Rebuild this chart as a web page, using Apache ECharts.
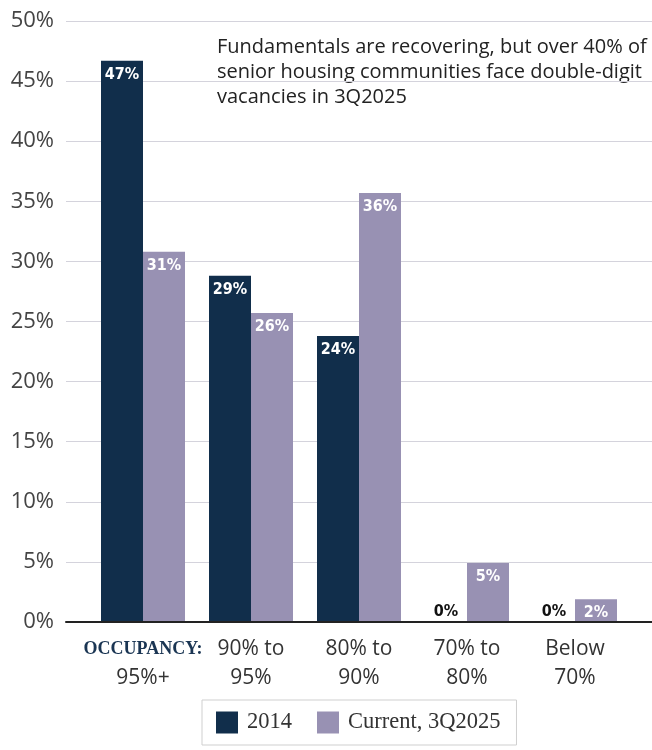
<!DOCTYPE html>
<html><head><meta charset="utf-8">
<script src="https://cdn.jsdelivr.net/npm/echarts@6/dist/echarts.min.js"></script>
<style>html,body{margin:0;padding:0;background:#fff}#c{width:652px;height:750px}</style>
</head><body><div id="c"></div>
<script>
const categories = ['95%+', '90% to\n95%', '80% to\n90%', '70% to\n80%', 'Below\n70%'];
const series2014 = [46.7, 28.8, 23.8, 0, 0];
const seriesCurrent = [30.8, 25.7, 35.7, 4.9, 1.9];
const seriesNames = ['2014', 'Current, 3Q2025'];
const yTicks = {min: 0, max: 50, interval: 5};
const annotation = 'Fundamentals are recovering, but over 40% of\nsenior housing communities face double-digit\nvacancies in 3Q2025';

const DARK = '#112e4b', PURPLE = '#9891b3';
const labelFont = '"Liberation Sans Narrow","DejaVu Sans Condensed",sans-serif';
function mkData(arr) {
  return arr.map(v => v === 0 ? {value: v, label: {position: 'top', distance: 2, color: '#111'}} : v);
}
const chart = echarts.init(document.getElementById('c'), null, {renderer: 'canvas'});
chart.setOption({
  animation: false,
  grid: [
    {left: 66, right: 0, top: 21, bottom: 128},
    {left: 89, right: 23, top: 21, bottom: 128}
  ],
  xAxis: [
    {gridIndex: 0, type: 'value', min: 0, max: 1, axisLabel: {show: false}, axisTick: {show: false}, splitLine: {show: false},
     axisLine: {show: true, lineStyle: {color: '#222', width: 2}}, z: 5},
    {gridIndex: 1, type: 'category', data: categories, axisLine: {show: false}, axisTick: {show: false},
     axisLabel: {interval: 0, margin: 13, fontFamily: '"Open Sans",sans-serif', fontSize: 21, color: '#333', lineHeight: 29,
       formatter: (v, i) => i === 0 ? '{o|OCCUPANCY:}\n' + v : v,
       rich: {o: {fontFamily: '"Liberation Serif",serif', fontWeight: 'bold', fontSize: 18, color: '#1a3553', lineHeight: 29}}}}
  ],
  yAxis: [
    {gridIndex: 0, type: 'value', min: yTicks.min, max: yTicks.max, interval: yTicks.interval,
     axisLine: {show: false}, axisTick: {show: false},
     axisLabel: {formatter: '{value}%', margin: 12, fontFamily: '"Open Sans",sans-serif', fontSize: 22, color: '#444'},
     splitLine: {lineStyle: {color: '#d4d3dc', width: 1}}},
    {gridIndex: 1, type: 'value', min: yTicks.min, max: yTicks.max, interval: yTicks.interval, show: false, splitLine: {show: false}}
  ],
  legend: {
    left: 202, top: 700, padding: [11, 16, 11, 14], borderColor: '#cfcfcf', borderWidth: 1,
    itemWidth: 22, itemHeight: 22, itemGap: 25, icon: 'rect',
    textStyle: {fontFamily: '"Liberation Serif",serif', fontSize: 22.5, color: '#333', padding: [0, 0, 0, 4]},
    data: seriesNames
  },
  graphic: [{
    type: 'text', left: 217, top: 35,
    style: {text: annotation, fontFamily: '"Open Sans",sans-serif', fontSize: 20, lineHeight: 25, fill: '#222'}
  }],
  series: [
    {name: seriesNames[0], type: 'bar', xAxisIndex: 1, yAxisIndex: 1, data: mkData(series2014), barWidth: 42, barGap: '0%',
     itemStyle: {color: DARK},
     label: {show: true, position: 'insideTop', distance: 6, color: '#fff', fontFamily: labelFont, fontWeight: 'bold', fontSize: 16,
       formatter: p => Math.round(p.value) + '%'}},
    {name: seriesNames[1], type: 'bar', xAxisIndex: 1, yAxisIndex: 1, data: mkData(seriesCurrent), barWidth: 42, barGap: '0%',
     itemStyle: {color: PURPLE},
     label: {show: true, position: 'insideTop', distance: 6, color: '#fff', fontFamily: labelFont, fontWeight: 'bold', fontSize: 16,
       formatter: p => Math.round(p.value) + '%'}}
  ]
});
</script></body></html>
